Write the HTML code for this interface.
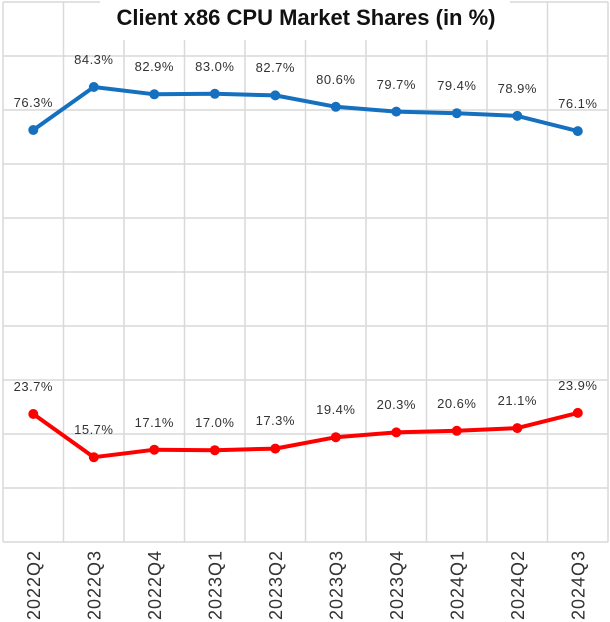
<!DOCTYPE html>
<html><head><style>
body{margin:0;background:#fff;}
svg{display:block;font-family:"Liberation Sans",sans-serif;}
</style></head><body>
<svg width="610" height="622" viewBox="0 0 610 622">
<g stroke="#d9d9d9" stroke-width="1.5">
<line x1="3" y1="2" x2="608" y2="2"/><line x1="3" y1="56" x2="608" y2="56"/><line x1="3" y1="110" x2="608" y2="110"/><line x1="3" y1="164" x2="608" y2="164"/><line x1="3" y1="218" x2="608" y2="218"/><line x1="3" y1="272" x2="608" y2="272"/><line x1="3" y1="326" x2="608" y2="326"/><line x1="3" y1="380" x2="608" y2="380"/><line x1="3" y1="434" x2="608" y2="434"/><line x1="3" y1="488" x2="608" y2="488"/><line x1="3" y1="542" x2="608" y2="542"/>
<line x1="3" y1="2" x2="3" y2="542"/><line x1="63.5" y1="2" x2="63.5" y2="542"/><line x1="124" y1="2" x2="124" y2="542"/><line x1="184.5" y1="2" x2="184.5" y2="542"/><line x1="245" y1="2" x2="245" y2="542"/><line x1="305.5" y1="2" x2="305.5" y2="542"/><line x1="366" y1="2" x2="366" y2="542"/><line x1="426.5" y1="2" x2="426.5" y2="542"/><line x1="487" y1="2" x2="487" y2="542"/><line x1="547.5" y1="2" x2="547.5" y2="542"/><line x1="608" y1="2" x2="608" y2="542"/>
</g>
<rect x="100" y="0" width="410" height="40" fill="#fff"/>
<text x="306" y="25" text-anchor="middle" font-size="22" font-weight="bold" fill="#111">Client x86 CPU Market Shares (in %)</text>
<polyline fill="none" stroke="#1570c0" stroke-width="4" stroke-linejoin="round" points="33.3,130 93.8,87 154.3,94.3 214.8,93.8 275.3,95.4 335.8,106.8 396.3,111.6 456.8,113.2 517.3,115.9 577.8,131.1"/>
<polyline fill="none" stroke="#fe0000" stroke-width="4" stroke-linejoin="round" points="33.3,414 93.8,457.2 154.3,449.7 214.8,450.2 275.3,448.6 335.8,437.2 396.3,432.4 456.8,430.8 517.3,428.1 577.8,412.9"/>
<g fill="#1570c0"><circle cx="33.3" cy="130" r="5"/><circle cx="93.8" cy="87" r="5"/><circle cx="154.3" cy="94.3" r="5"/><circle cx="214.8" cy="93.8" r="5"/><circle cx="275.3" cy="95.4" r="5"/><circle cx="335.8" cy="106.8" r="5"/><circle cx="396.3" cy="111.6" r="5"/><circle cx="456.8" cy="113.2" r="5"/><circle cx="517.3" cy="115.9" r="5"/><circle cx="577.8" cy="131.1" r="5"/></g>
<g fill="#fe0000"><circle cx="33.3" cy="414" r="5"/><circle cx="93.8" cy="457.2" r="5"/><circle cx="154.3" cy="449.7" r="5"/><circle cx="214.8" cy="450.2" r="5"/><circle cx="275.3" cy="448.6" r="5"/><circle cx="335.8" cy="437.2" r="5"/><circle cx="396.3" cy="432.4" r="5"/><circle cx="456.8" cy="430.8" r="5"/><circle cx="517.3" cy="428.1" r="5"/><circle cx="577.8" cy="412.9" r="5"/></g>
<g font-size="13" fill="#333" text-anchor="middle" letter-spacing="0.5">
<text x="33.3" y="107">76.3%</text><text x="93.8" y="64">84.3%</text><text x="154.3" y="71">82.9%</text><text x="214.8" y="71">83.0%</text><text x="275.3" y="72">82.7%</text><text x="335.8" y="84">80.6%</text><text x="396.3" y="89">79.7%</text><text x="456.8" y="90">79.4%</text><text x="517.3" y="93">78.9%</text><text x="577.8" y="108">76.1%</text>
<text x="33.3" y="391">23.7%</text><text x="93.8" y="434">15.7%</text><text x="154.3" y="427">17.1%</text><text x="214.8" y="427">17.0%</text><text x="275.3" y="425">17.3%</text><text x="335.8" y="414">19.4%</text><text x="396.3" y="409">20.3%</text><text x="456.8" y="408">20.6%</text><text x="517.3" y="405">21.1%</text><text x="577.8" y="390">23.9%</text>
</g>
<g font-size="18" fill="#333" letter-spacing="1">
<text transform="translate(40,620) rotate(-90)">2022Q2</text>
<text transform="translate(100.5,620) rotate(-90)">2022Q3</text>
<text transform="translate(161,620) rotate(-90)">2022Q4</text>
<text transform="translate(221.5,620) rotate(-90)">2023Q1</text>
<text transform="translate(282,620) rotate(-90)">2023Q2</text>
<text transform="translate(342.5,620) rotate(-90)">2023Q3</text>
<text transform="translate(403,620) rotate(-90)">2023Q4</text>
<text transform="translate(463.5,620) rotate(-90)">2024Q1</text>
<text transform="translate(524,620) rotate(-90)">2024Q2</text>
<text transform="translate(584.5,620) rotate(-90)">2024Q3</text>
</g>
</svg>
</body></html>
